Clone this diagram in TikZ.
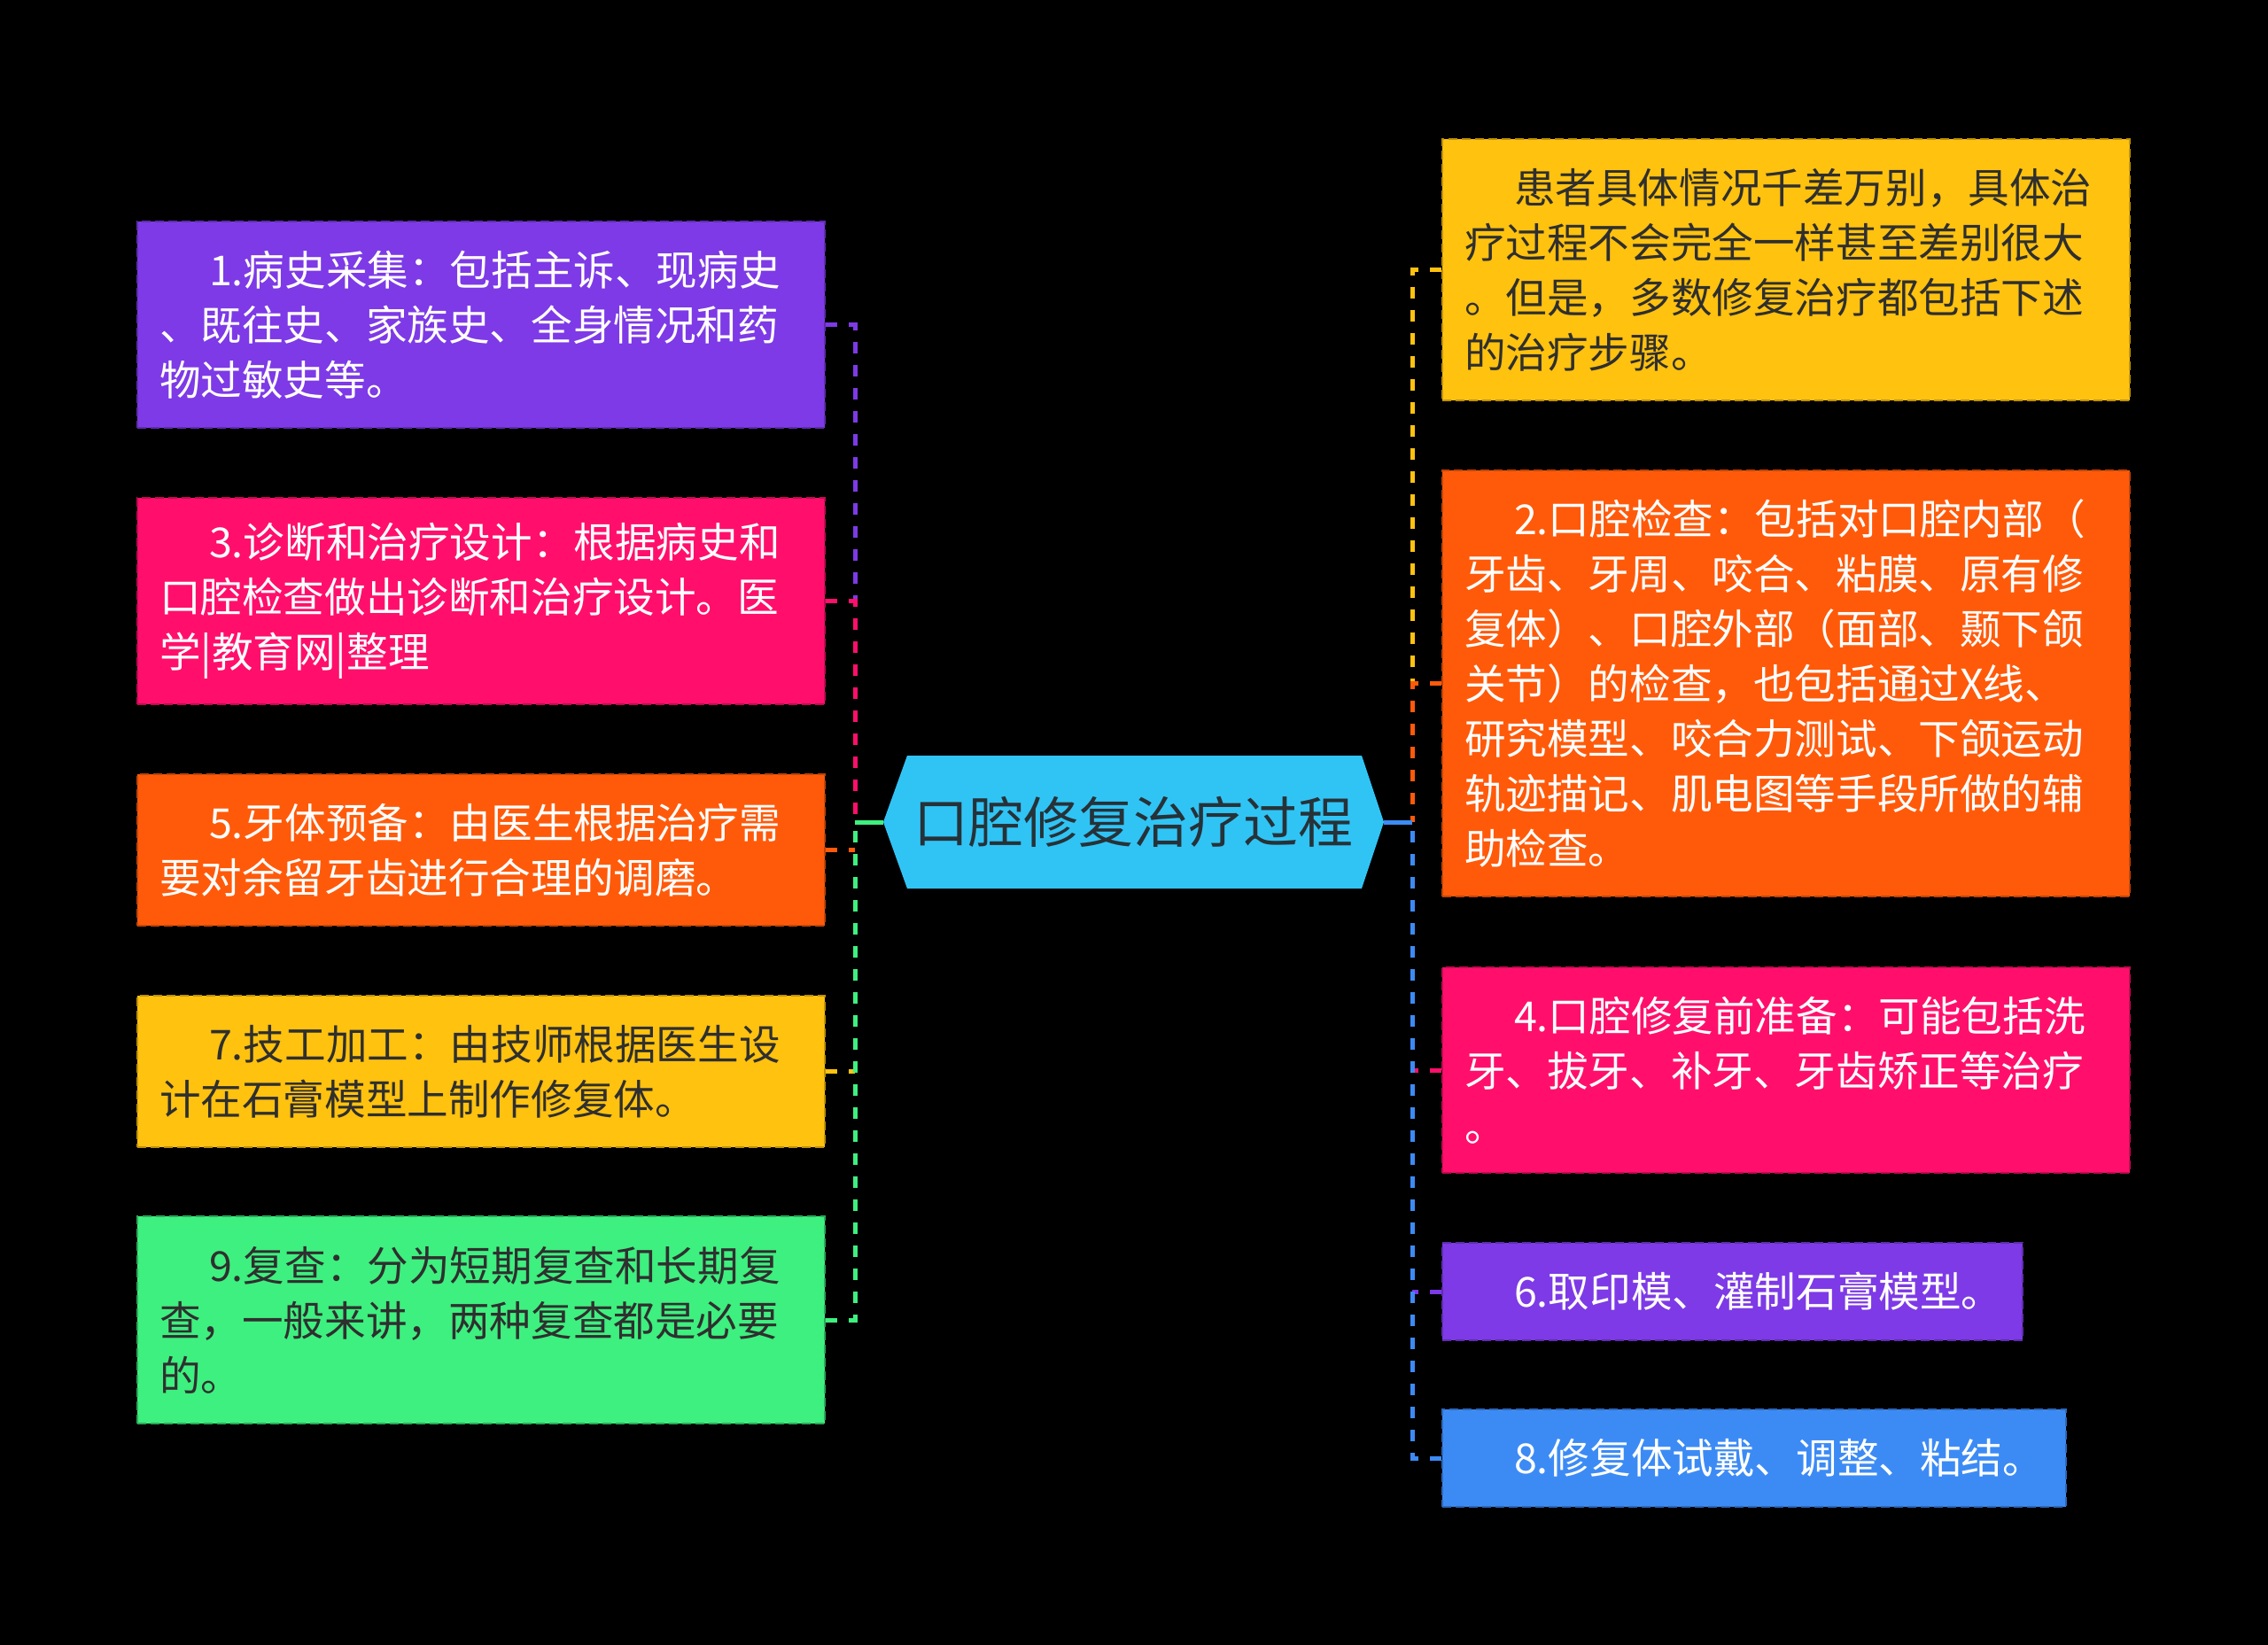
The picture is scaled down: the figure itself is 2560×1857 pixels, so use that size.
\documentclass[tikz,border=0pt]{standalone}
\usepackage{fontspec}
\setmainfont{Noto Sans CJK SC}
\definecolor{cpurple}{HTML}{7D3AE6}
\definecolor{cpink}{HTML}{FF0F6B}
\definecolor{corange}{HTML}{FF5A0A}
\definecolor{cyellow}{HTML}{FFC20F}
\definecolor{cgreen}{HTML}{3EF07F}
\definecolor{cblue}{HTML}{3C8BF5}
\definecolor{ccyan}{HTML}{30C4F5}
\definecolor{cdark}{HTML}{2F2F2F}
\definecolor{ctitle}{HTML}{263238}
\newcommand{\ind}{\hspace*{56pt}}
\begin{document}
\begin{tikzpicture}[x=1pt,y=-1pt,
  box/.style={rectangle, line width=2pt, dash pattern=on 10pt off 5pt,
    inner xsep=25pt, inner ysep=0pt, align=left, anchor=center,
    font=\fontsize{46.6pt}{62pt}\selectfont},
  pbox/.style={box, fill=cpurple, draw=cpurple!75!black, text=white},
  kbox/.style={box, fill=cpink, draw=cpink!75!black, text=white},
  obox/.style={box, fill=corange, draw=corange!75!black, text=white},
  ybox/.style={box, fill=cyellow, draw=cyellow!75!black, text=cdark},
  gbox/.style={box, fill=cgreen, draw=cgreen!70!black, text=cdark},
  bbox/.style={box, fill=cblue, draw=cblue!75!black, text=white},
  conn/.style={line width=5pt, dash pattern=on 13pt off 13pt},
  solidconn/.style={line width=5pt}]
\useasboundingbox (0,0) rectangle (2560,1857);
\fill[black] (0,0) rectangle (2560,1857);

% central topic
\fill[ccyan] (997,928) -- (1024,853) -- (1537,853) -- (1562,928) -- (1537,1003) -- (1024,1003) -- cycle;
\node[minimum width=565pt, minimum height=150pt, inner sep=0pt, text=ctitle,
  font=\fontsize{62pt}{70pt}\selectfont] (c) at (1279.5,928) {口腔修复治疗过程};

% left boxes
\node[pbox, minimum width=776pt, minimum height=233pt, text width=726pt] (b1) at (543,366.5)
  {\ind 1.病史采集：包括主诉、现病史\\、既往史、家族史、全身情况和药\\物过敏史等。};
\node[kbox, minimum width=776pt, minimum height=233pt, text width=726pt] (b3) at (543,678.5)
  {\ind 3.诊断和治疗设计：根据病史和\\口腔检查做出诊断和治疗设计。医\\学|教育网|整理};
\node[obox, minimum width=776pt, minimum height=171pt, text width=726pt] (b5) at (543,959.5)
  {\ind 5.牙体预备：由医生根据治疗需\\要对余留牙齿进行合理的调磨。};
\node[ybox, minimum width=776pt, minimum height=171pt, text width=726pt] (b7) at (543,1209.5)
  {\ind 7.技工加工：由技师根据医生设\\计在石膏模型上制作修复体。};
\node[gbox, minimum width=776pt, minimum height=234pt, text width=726pt] (b9) at (543,1490)
  {\ind 9.复查：分为短期复查和长期复\\查，一般来讲，两种复查都是必要\\的。};

% right boxes
\node[ybox, minimum width=776pt, minimum height=295pt, text width=726pt] (b0) at (2016,304.5)
  {\ind 患者具体情况千差万别，具体治\\疗过程不会完全一样甚至差别很大\\。但是，多数修复治疗都包括下述\\的治疗步骤。};
\node[obox, minimum width=776pt, minimum height=481pt, text width=726pt] (b2) at (2016,771.5)
  {\ind 2.口腔检查：包括对口腔内部（\\牙齿、牙周、咬合、粘膜、原有修\\复体）、口腔外部（面部、颞下颌\\关节）的检查，也包括通过X线、\\研究模型、咬合力测试、下颌运动\\轨迹描记、肌电图等手段所做的辅\\助检查。};
\node[kbox, minimum width=776pt, minimum height=232pt, text width=726pt] (b4) at (2016,1208)
  {\ind 4.口腔修复前准备：可能包括洗\\牙、拔牙、补牙、牙齿矫正等治疗\\。};
\node[pbox, minimum width=655pt, minimum height=110pt, text width=605pt] (b6) at (1955.5,1458)
  {\ind 6.取印模、灌制石膏模型。};
\node[bbox, minimum width=704pt, minimum height=110pt, text width=654pt] (b8) at (1980,1646)
  {\ind 8.修复体试戴、调整、粘结。};

% connectors
\coordinate (L) at (965,928);
\coordinate (R) at (1594,928);
\draw[conn, cpurple] (b1.east) -| (L |- b3.east);
\draw[conn, cpink] (b3.east) -| (L);
\draw[conn, corange] (b5.east) -- (L |- b5.east);
\draw[conn, cyellow] (b7.east) -- (L |- b7.east);
\draw[conn, cgreen] (b9.east) -| (L);
\draw[solidconn, cgreen] (L) -- (c.west);

\draw[conn, cyellow] (b0.west) -| (R |- b2.west);
\draw[conn, corange] (b2.west) -| (R);
\draw[conn, cpink] (b4.west) -- (R |- b4.west);
\draw[conn, cpurple] (b6.west) -- (R |- b6.west);
\draw[conn, cblue] (b8.west) -| (R);
\draw[solidconn, cblue] (R) -- (c.east);
\end{tikzpicture}
\end{document}
